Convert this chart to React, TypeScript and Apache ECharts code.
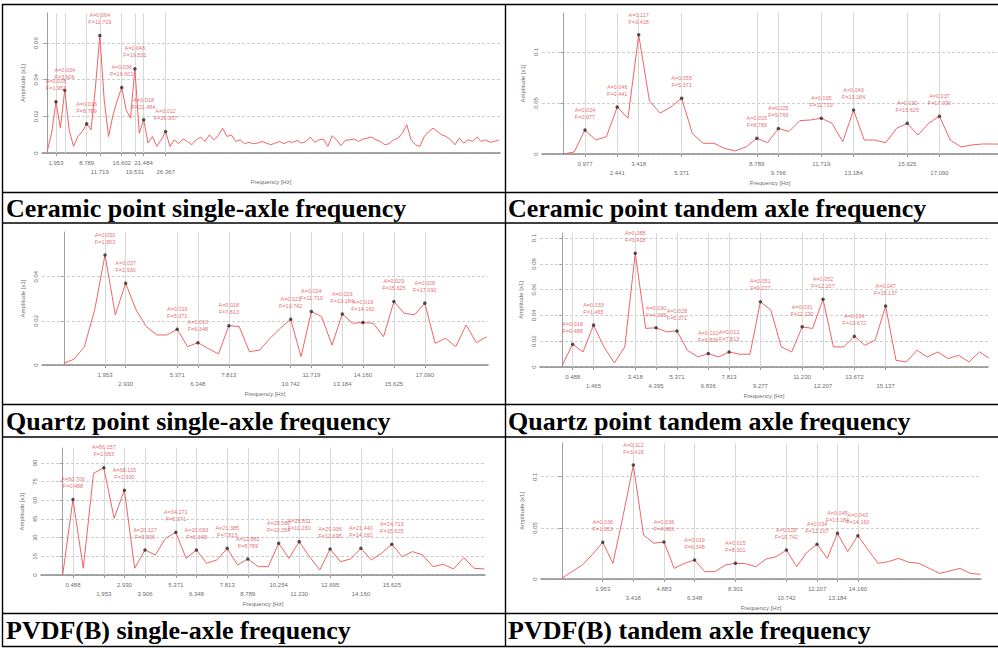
import React, { useEffect, useRef } from "react";
import * as echarts from "echarts";

// ---------- DATA ----------
// FFT bin width (Hz) of each record
const ceramicSingleBin = 1000 / 1024;
const tandemBin = 1000 / 2048;

// Ceramic point, single axle (amplitude per bin, 0 Hz … 100 Hz)
const ceramicSingleAmp = [
  0.0009, 0.0108, 0.028, 0.0136, 0.0343, 0.0126, 0.0036, 0.009, 0.0117, 0.0159,
  0.0126, 0.036, 0.0641, 0.0289, 0.009, 0.0208, 0.0289, 0.0358, 0.0235, 0.019,
  0.046, 0.0108, 0.0181, 0.0054, 0.009, 0.0036, 0.0072, 0.0117, 0.0036, 0.0072,
  0.0051, 0.0076, 0.0063, 0.0045, 0.0072, 0.0087, 0.0063, 0.0099, 0.0072, 0.0094,
  0.0136, 0.009, 0.0099, 0.0063, 0.0072, 0.0051, 0.0058, 0.0051, 0.0054, 0.0063,
  0.0054, 0.0045, 0.0054, 0.0063, 0.0051, 0.0063, 0.0058, 0.0069, 0.0054, 0.0063,
  0.0087, 0.0058, 0.0072, 0.0076, 0.0036, 0.0094, 0.0072, 0.004, 0.0069, 0.0072,
  0.0076, 0.0063, 0.0076, 0.0081, 0.0087, 0.0072, 0.0063, 0.0045, 0.0051, 0.0072,
  0.0081, 0.0108, 0.0154, 0.0072, 0.0045, 0.0036, 0.009, 0.0117, 0.0136, 0.0117,
  0.0099, 0.009, 0.0072, 0.0045, 0.0081, 0.0054, 0.0072, 0.0063, 0.0087, 0.0063,
  0.0072, 0.0058, 0.0063, 0.007,
];
const ceramicSinglePeaks = [2, 4, 9, 12, 17, 20, 22, 27];
const ceramicSingleYTicks = [0, 0.02, 0.04, 0.06];

// Ceramic point, tandem axle
const ceramicTandemAmp = [
  0.0, 0.002, 0.0235, 0.0137, 0.017, 0.046, 0.035, 0.1167, 0.052, 0.04,
  0.046, 0.0546, 0.02, 0.0105, 0.0105, 0.0055, 0.003, 0.007, 0.0154, 0.011,
  0.025, 0.022, 0.0327, 0.0333, 0.035, 0.03, 0.012, 0.043, 0.0137, 0.0137,
  0.011, 0.025, 0.03, 0.0186, 0.03, 0.037, 0.0137, 0.007, 0.0088, 0.0098,
  0.0098, 0.0095,
];
const ceramicTandemPeaks = [2, 5, 7, 11, 18, 20, 24, 27, 32, 35];
const ceramicTandemYTicks = [0, 0.05, 0.1];

// Quartz point, single axle
const quartzSingleAmp = [
  0.0008, 0.0026, 0.0083, 0.025, 0.0498, 0.0227, 0.037, 0.025, 0.0174, 0.0136,
  0.0136, 0.0162, 0.0083, 0.0101, 0.0075, 0.005, 0.0178, 0.0174, 0.006, 0.0068,
  0.0121, 0.0166, 0.0207, 0.0038, 0.0242, 0.0219, 0.009, 0.0231, 0.0189, 0.0192,
  0.0189, 0.0128, 0.0287, 0.0234, 0.0227, 0.028, 0.0098, 0.0121, 0.0083, 0.0181,
  0.0101, 0.0128,
];
const quartzSinglePeaks = [4, 6, 11, 13, 16, 22, 24, 27, 29, 32, 35];
const quartzSingleYTicks = [0, 0.02, 0.04];

// Quartz point, tandem axle
const quartzTandemAmp = [
  0.0013, 0.0177, 0.0117, 0.0325, 0.0156, 0.0031, 0.0156, 0.0883, 0.03, 0.0304,
  0.0273, 0.028, 0.013, 0.0078, 0.0104, 0.0078, 0.0117, 0.0099, 0.0099, 0.0507,
  0.0442, 0.0156, 0.0117, 0.0312, 0.0299, 0.0525, 0.0156, 0.0156, 0.0239, 0.0169,
  0.0208, 0.0473, 0.0052, 0.0039, 0.013, 0.0078, 0.0117, 0.0065, 0.0091, 0.0039,
  0.0117, 0.0065,
];
const quartzTandemPeaks = [1, 3, 7, 9, 11, 14, 16, 19, 23, 25, 28, 31];
const quartzTandemYTicks = [0, 0.02, 0.04, 0.06, 0.08, 0.1];

// PVDF(B), single axle
const pvdfSingleAmp = [
  0.0, 60.706, 5.4, 81.7, 86.157, 45.6, 68.115, 5.4, 20.127, 16.1,
  29.5, 34.271, 13.4, 20.093, 9.4, 12.1, 21.385, 8.0, 12.882, 6.7,
  6.7, 25.58, 13.4, 26.811, 14.7, 4.0, 20.936, 10.7, 12.9, 21.44,
  12.1, 17.4, 24.713, 14.7, 18.8, 16.1, 6.7, 8.6, 4.8, 13.9,
  5.4, 4.8,
];
const pvdfSinglePeaks = [1, 4, 6, 8, 11, 13, 16, 18, 21, 23, 26, 29, 32];
const pvdfSingleYTicks = [0, 15, 30, 45, 60, 75, 90];

// PVDF(B), tandem axle
const pvdfTandemAmp = [
  0.0007, 0.0072, 0.0137, 0.0241, 0.0359, 0.0153, 0.062, 0.1115, 0.043, 0.035,
  0.0362, 0.0104, 0.0153, 0.0186, 0.0072, 0.0072, 0.0137, 0.0153, 0.015, 0.012,
  0.0196, 0.0218, 0.0284, 0.012, 0.026, 0.0339, 0.0202, 0.0447, 0.0267, 0.0424,
  0.0284, 0.0153, 0.017, 0.0202, 0.0163, 0.0153, 0.0104, 0.0055, 0.0078, 0.0104,
  0.0055, 0.0046,
];
const pvdfTandemPeaks = [4, 7, 10, 13, 17, 22, 25, 27, 29];
const pvdfTandemYTicks = [0, 0.05, 0.1];

const captions = [
  "Ceramic point single-axle frequency",
  "Ceramic point tandem axle frequency",
  "Quartz point single-axle frequency",
  "Quartz point tandem axle frequency",
  "PVDF(B) single-axle frequency",
  "PVDF(B) tandem axle frequency",
];
const xAxisTitle = "Frequency [Hz]";
const yAxisTitle = "Amplitude [x1]";

// ---------- LAYOUT ----------
const panels = [
  { amp: ceramicSingleAmp, bin: ceramicSingleBin, peaks: ceramicSinglePeaks, yTicks: ceramicSingleYTicks,
    left: 42, top: 13, width: 458, height: 140, xMin: -1.16, xMax: 100.85, yMax: 0.0764 },
  { amp: ceramicTandemAmp, bin: tandemBin, peaks: ceramicTandemPeaks, yTicks: ceramicTandemYTicks,
    left: 542, top: 13, width: 456, height: 141, xMin: -0.977, xMax: 19.75, yMax: 0.138 },
  { amp: quartzSingleAmp, bin: tandemBin, peaks: quartzSinglePeaks, yTicks: quartzSingleYTicks,
    left: 42, top: 232, width: 446, height: 133, xMin: -1.03, xMax: 20.08, yMax: 0.0602 },
  { amp: quartzTandemAmp, bin: tandemBin, peaks: quartzTandemPeaks, yTicks: quartzTandemYTicks,
    left: 540, top: 233, width: 448, height: 134, xMin: -1.04, xMax: 19.93, yMax: 0.104 },
  { amp: pvdfSingleAmp, bin: tandemBin, peaks: pvdfSinglePeaks, yTicks: pvdfSingleYTicks,
    left: 41, top: 448, width: 444, height: 127, xMin: -1.03, xMax: 20.05, yMax: 102 },
  { amp: pvdfTandemAmp, bin: tandemBin, peaks: pvdfTandemPeaks, yTicks: pvdfTandemYTicks,
    left: 541, top: 443, width: 440, height: 136, xMin: -1.0, xMax: 20.05, yMax: 0.133 },
];

const rowLines = [4.5, 192.5, 223, 404.5, 437, 613.5, 646.5];
const colLines = [2.5, 505.5];
const captionCells = [
  { x: 6, y: 208 }, { x: 508, y: 208 },
  { x: 6, y: 421 }, { x: 508, y: 421 },
  { x: 6, y: 630 }, { x: 508, y: 630 },
];

const LINE = "#f06464";
const LABEL = "#e3454a";
const AXIS_TEXT = "#6e6e6e";
const SANS = "Liberation Sans, Arial, sans-serif";

function buildOption() {
  const graphic: any[] = [];
  rowLines.forEach((y) =>
    graphic.push({ type: "line", silent: true, z: 100,
      shape: { x1: 2, y1: y, x2: 998, y2: y }, style: { stroke: "#000", lineWidth: 1.4 } })
  );
  colLines.forEach((x) =>
    graphic.push({ type: "line", silent: true, z: 100,
      shape: { x1: x, y1: 4, x2: x, y2: 647 }, style: { stroke: "#000", lineWidth: 1.4 } })
  );
  captions.forEach((t, k) =>
    graphic.push({ type: "text", silent: true, z: 100, x: captionCells[k].x, y: captionCells[k].y,
      style: { text: t, fill: "#000", fontSize: 26, fontWeight: "bold",
        fontFamily: "Liberation Serif, Times New Roman, serif", verticalAlign: "middle", align: "left" } })
  );

  const grid = panels.map((p) => ({ left: p.left, top: p.top, width: p.width, height: p.height }));

  const xAxis = panels.map((p, k) => {
    const freqs = p.peaks.map((i) => i * p.bin);
    return {
      type: "value", gridIndex: k, min: p.xMin, max: p.xMax,
      name: xAxisTitle, nameLocation: "middle", nameGap: 26,
      nameTextStyle: { fontSize: 6, color: AXIS_TEXT, fontFamily: SANS },
      axisLine: { show: true, onZero: false, lineStyle: { color: "#8a8a8a", width: 1.5 } },
      axisTick: { show: true, customValues: freqs, length: 3, lineStyle: { color: "#999" } },
      axisLabel: {
        customValues: freqs, showMinLabel: true, showMaxLabel: true,
        fontSize: 6, color: AXIS_TEXT, fontFamily: SANS, margin: 5, lineHeight: 9.5,
        formatter: (v: number) => {
          const idx = freqs.findIndex((f) => Math.abs(f - v) < 1e-6);
          const s = v.toFixed(3);
          return idx % 2 === 1 ? "\n" + s : s;
        },
      },
      splitLine: { show: false },
    };
  });

  const yAxis = panels.map((p, k) => ({
    type: "value", gridIndex: k, min: 0, max: p.yMax, interval: p.yTicks[1],
    name: yAxisTitle, nameLocation: "middle", nameGap: 16, nameRotate: 90,
    nameTextStyle: { fontSize: 6, color: AXIS_TEXT, fontFamily: SANS },
    axisLine: { show: true, lineStyle: { color: "#a0a0a0" } },
    axisTick: { show: true, customValues: p.yTicks, length: 3, lineStyle: { color: "#a0a0a0" } },
    axisLabel: { customValues: p.yTicks, rotate: 90, fontSize: 6, color: AXIS_TEXT, fontFamily: SANS, margin: 3,
      showMinLabel: true, showMaxLabel: true },
    splitLine: { show: true, lineStyle: { color: "#cdcdcd", type: [3, 2], width: 1 } },
  }));

  const series: any[] = [];
  panels.forEach((p, k) => {
    series.push({
      type: "line", xAxisIndex: k, yAxisIndex: k, silent: true, clip: true,
      data: p.amp.map((a, i) => [i * p.bin, a]),
      showSymbol: false, symbol: "none", z: 3,
      lineStyle: { color: LINE, width: 1 }, itemStyle: { color: LINE },
      markLine: {
        silent: true, z: 1, symbol: ["none", "none"], label: { show: false },
        lineStyle: { color: "#d8d8d8", width: 1, type: "solid" },
        data: p.peaks.map((i) => ({ xAxis: i * p.bin })),
      },
    });
    series.push({
      type: "scatter", xAxisIndex: k, yAxisIndex: k, silent: true, z: 4,
      data: p.peaks.map((i) => [i * p.bin, p.amp[i]]),
      symbol: "circle", symbolSize: 3.5, itemStyle: { color: "#2b2b2b" },
      labelLayout: { moveOverlap: "shiftY" },
      label: {
        show: true, position: "top", distance: 8, fontSize: 5.5, lineHeight: 7,
        color: LABEL, fontFamily: SANS,
        formatter: (prm: any) => `A=${prm.value[1].toFixed(3)}\nF=${prm.value[0].toFixed(3)}`,
      },
    });
  });

  return { animation: false, backgroundColor: "#fff", graphic, grid, xAxis, yAxis, series };
}

export default function App() {
  const ref = useRef<HTMLDivElement>(null);
  useEffect(() => {
    const chart = echarts.init(ref.current as HTMLDivElement, undefined, { renderer: "svg" });
    chart.setOption(buildOption() as any);
    return () => chart.dispose();
  }, []);
  return (
    <div
      ref={ref}
      style={{ position: "absolute", left: 0, top: 0, width: 998, height: 648 }}
    />
  );
}
